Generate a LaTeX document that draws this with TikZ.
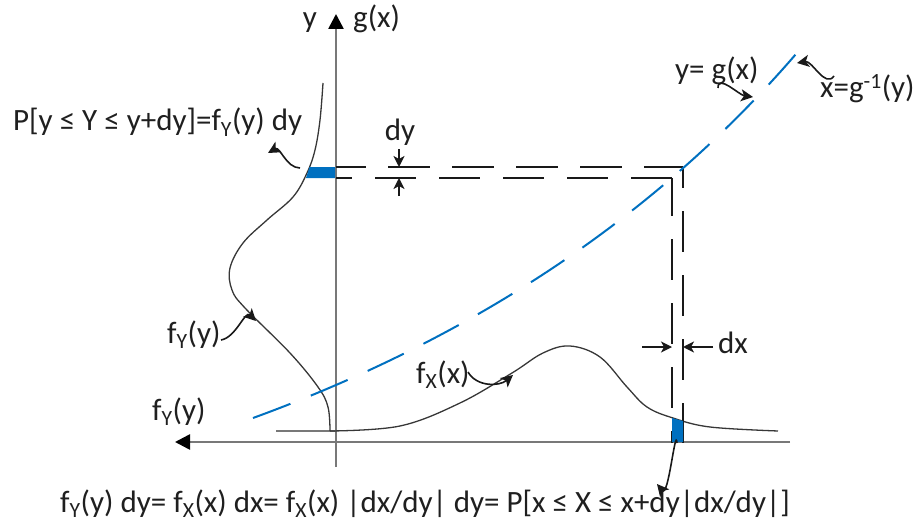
\documentclass[tikz,border=0pt]{standalone}
\usepackage{fontspec}
\setmainfont{Carlito}
\usetikzlibrary{arrows.meta}
\newcommand{\sbY}{\textsubscript{Y}}
\newcommand{\sbX}{\textsubscript{X}}
\definecolor{gblue}{RGB}{0,112,192}
\definecolor{axgray}{RGB}{120,120,120}
\definecolor{curvegray}{RGB}{55,55,55}
\begin{document}
\begin{tikzpicture}[x=1pt,y=-1pt,
  lbl/.style={font=\fontsize{31}{34}\selectfont, text=black!88, inner sep=0pt},
  axisline/.style={draw=axgray, line width=2.6pt, -{Triangle[length=15pt,width=15pt,color=black]}},
  baseln/.style={draw=axgray, line width=2pt},
  curve/.style={draw=curvegray, line width=1.3pt},
  blkdash/.style={draw=black!90, line width=2pt},
  bluedash/.style={draw=gblue, line width=2pt, dash pattern=on 40pt off 22pt},
  callout/.style={draw=black!90, line width=1.6pt, -{Stealth[length=12pt,width=12pt,inset=3pt]}},
  dimarrow/.style={draw=black!90, line width=1.5pt, -{Stealth[length=11pt,width=11pt,inset=3pt]}}
]
\useasboundingbox (0,0) rectangle (919,527);

% baseline and axes
\draw[baseln] (276,431) -- (336,431);
\draw[axisline] (336,467) -- (336,14);
\draw[axisline] (790,442) -- (175,442);

% density curves
\draw[curve] plot[smooth, tension=0.6] coordinates {(323,83) (320,120) (315,150) (307,173) (293,197) (267,220) (243,243) (230,268) (232,290) (245,308) (290,353) (318,387) (328,407) (330,431)};
\draw[curve] plot[smooth, tension=0.6] coordinates {(330,431) (400,426) (460,403) (512,373) (543,353) (570,346) (600,357) (627,387) (647,407) (673,418) (710,427) (778,431)};

% dashed projection lines
\draw[blkdash, dash pattern=on 42pt off 22pt, dash phase=12pt] (336,167) -- (683,167);
\draw[blkdash, dash pattern=on 41pt off 23pt, dash phase=20pt] (683,167) -- (683,443);
\draw[blkdash, dash pattern=on 41pt off 23pt, dash phase=25pt] (336,178) -- (672,178);
\draw[blkdash, dash pattern=on 41pt off 23pt, dash phase=3pt] (672,178) -- (672,443);

% g(x)
\draw[bluedash] (253,418) .. controls (477.7,336) and (662,212) .. (802,47);

% blue strips
\fill[gblue] (306,178) -- (309.5,167) -- (335,167) -- (335,178) -- cycle;
\fill[gblue] (672,418) -- (683,421) -- (683,442) -- (672,442) -- cycle;

% labels
\node[lbl, anchor=base] (ylab) at (310,28) {y};
\node[lbl, anchor=base west] (glab) at (353,28) {g(x)};
\node[lbl, anchor=base west] (plab) at (13,131) {P[y ≤ Y ≤ y+dy]=f\sbY(y) dy};
\node[lbl, anchor=base] (dylab) at (400,140) {dy};
\node[lbl, anchor=base west] (ygx) at (675,80) {y= g(x)};
\node[lbl, anchor=base west] (xinv) at (820,98) {x=g\textsuperscript{-1}(y)};
\node[lbl, anchor=base west] (fy1) at (167,343) {f\sbY(y)};
\node[lbl, anchor=base west] (fy2) at (152,420) {f\sbY(y)};
\node[lbl, anchor=base west] (fx) at (416,383) {f\sbX(x)};
\node[lbl, anchor=base west] (dxlab) at (718,353) {dx};
\node[lbl, anchor=base west] (eq) at (60,512) {f\sbY(y) dy= f\sbX(x) dx= f\sbX(x) |dx/dy| dy= P[x ≤ X ≤ x+dy|dx/dy|]};

% connector end points
\coordinate (pS) at (300,168);
\coordinate (pT) at (268,153);
\coordinate (gS) at (718,88);
\coordinate (gT) at (753,97);
\coordinate (iS) at (834,76);
\coordinate (iT) at (797,63);
\coordinate (fyS) at (221,340);
\coordinate (fyT) at (256,321);
\coordinate (fxS) at (468,372);
\coordinate (fxT) at (513,375);
\coordinate (bS) at (677,443);
\coordinate (bT) at (657,484);
\coordinate (dyA) at (399,149);
\coordinate (dyAt) at (399,167);
\coordinate (dyB) at (399,196);
\coordinate (dyBt) at (399,178);
\coordinate (dxA) at (642,347);
\coordinate (dxAt) at (672,347);
\coordinate (dxB) at (713,347);
\coordinate (dxBt) at (683,347);

% callout arrows
\draw[callout] (pS) to[out=180,in=30] (pT);
\draw[callout] (gS) to[out=90,in=172] (gT);
\draw[callout] (iS) to[out=-125,in=10] (iT);
\draw[callout] (fyS) to[out=10,in=135] (fyT);
\draw[callout] (fxS) to[out=-60,in=-140] (fxT);
\draw[callout] (bS) to[out=95,in=-50] (bT);

% dimension arrows
\draw[dimarrow] (dyA) -- (dyAt);
\draw[dimarrow] (dyB) -- (dyBt);
\draw[dimarrow] (dxA) -- (dxAt);
\draw[dimarrow] (dxB) -- (dxBt);
\end{tikzpicture}
\end{document}
